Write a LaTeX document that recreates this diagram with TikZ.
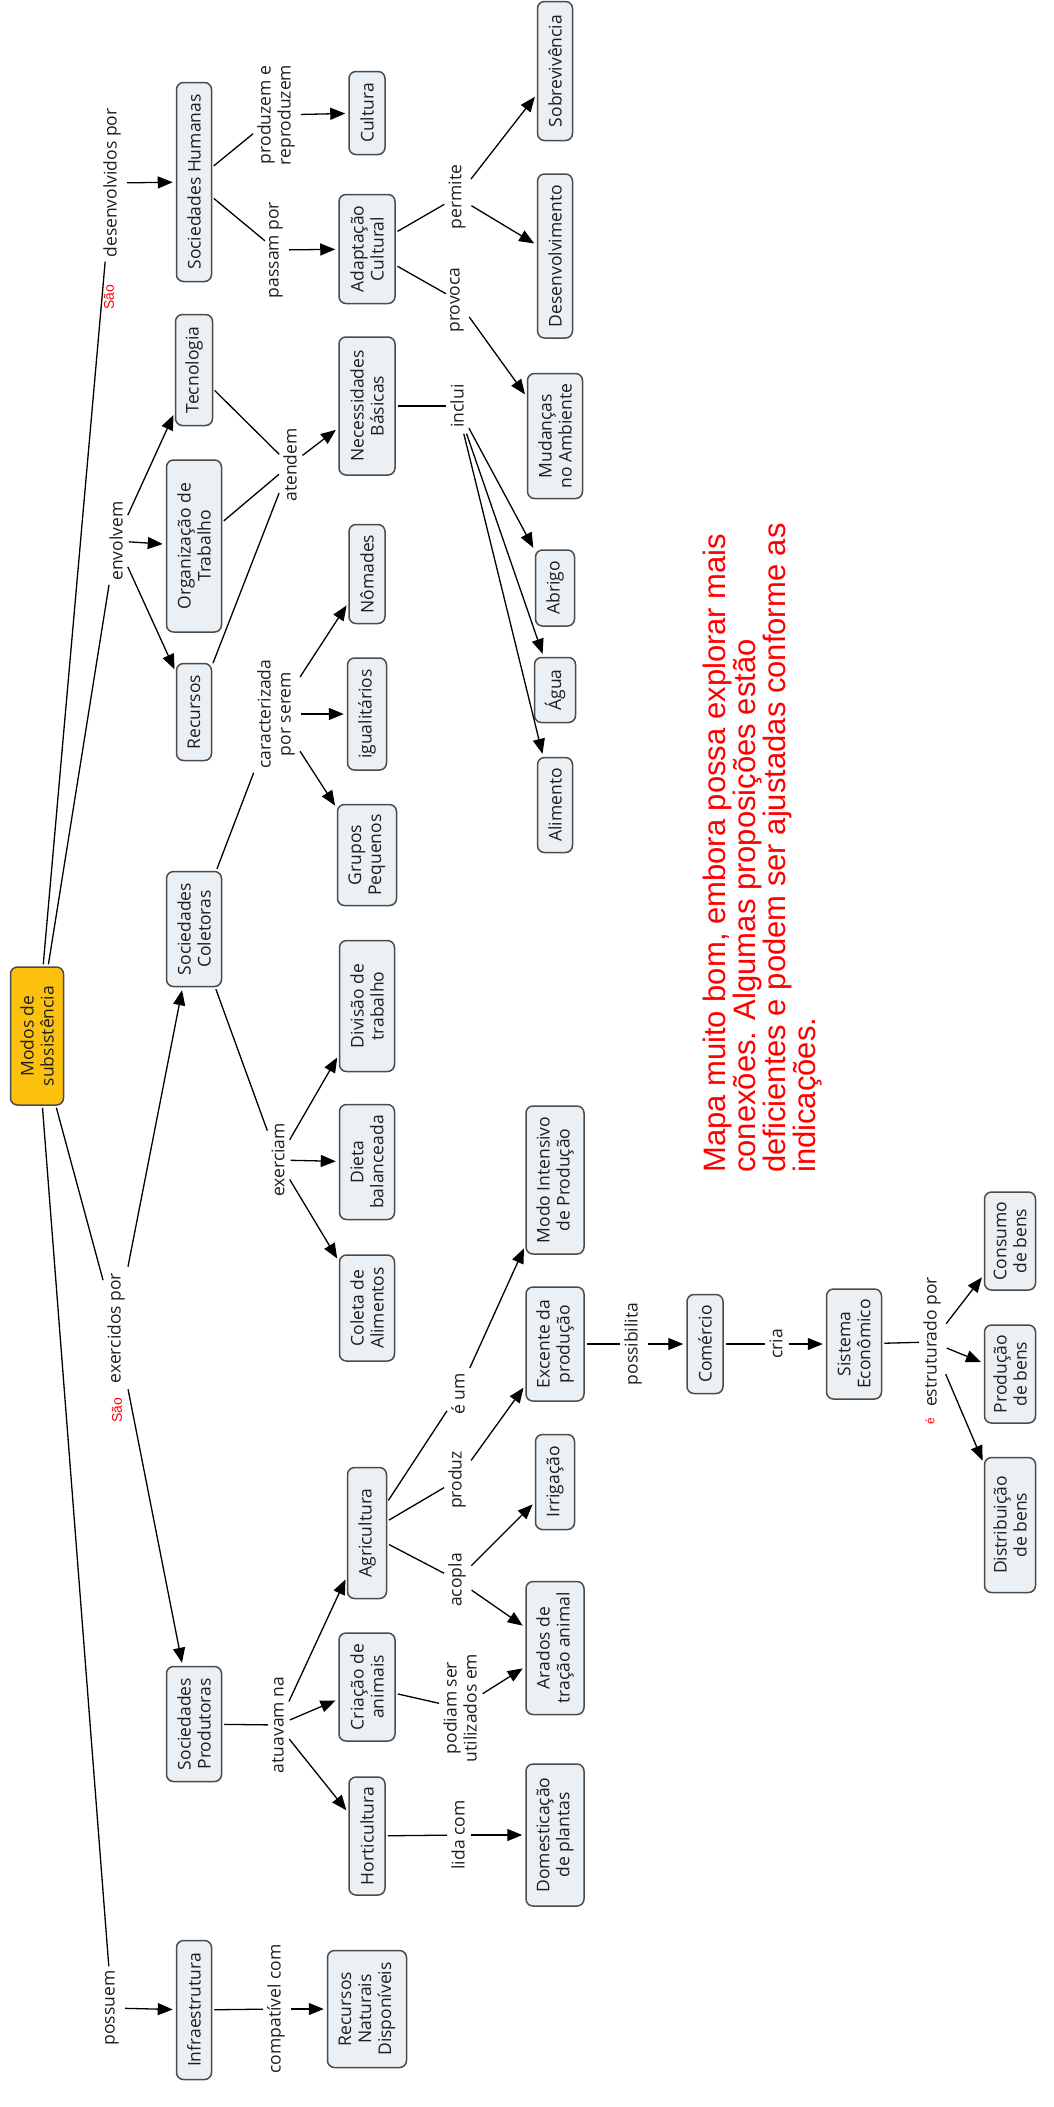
\documentclass[tikz,border=0pt]{standalone}
\usepackage{fontspec}
\usetikzlibrary{arrows.meta}
\newfontfamily\mapfont{Open Sans}
\newfontfamily\redfont{Liberation Sans}
\newcommand\mfont{\mapfont\fontsize{17.5}{20}\selectfont}
\newcommand\rfont{\redfont\fontsize{14}{16}\selectfont}
\newcommand\rsmallfont{\redfont\fontsize{12}{14}\selectfont}
\newcommand\rbigfont{\redfont\fontsize{31}{30}\selectfont}
\definecolor{boxfill}{RGB}{235,240,244}
\definecolor{boxdraw}{RGB}{75,75,75}
\definecolor{rootfill}{RGB}{251,193,14}
\definecolor{txtc}{RGB}{30,30,30}
\definecolor{redtxt}{RGB}{255,0,0}
\begin{document}
\begin{tikzpicture}[x=1pt,y=-1pt,
  cbox/.style={draw=boxdraw, fill=boxfill, line width=1.5pt, rounded corners=7pt,
    rotate=90, align=center, inner sep=2pt, font=\mfont, text=txtc},
  rootbox/.style={fill=rootfill},
  lbl/.style={rotate=90, align=center, inner sep=4pt, font=\mfont, text=txtc},
  redlbl/.style={rotate=90, inner sep=0pt, text=redtxt, font=\rfont},
  con/.style={line width=1.3pt, draw=black, shorten <=2pt},
  arr/.style={con, -{Triangle[length=15pt,width=12pt]}, shorten >=3pt}]
\useasboundingbox (0,0) rectangle (1053,2107);

% concepts
\node[cbox,rootbox,minimum width=138pt,minimum height=53pt] (root) at (37,1036) {Modos de\\subsistência};
\node[cbox,minimum width=199pt,minimum height=35pt] (sochum) at (194,182) {Sociedades Humanas};
\node[cbox,minimum width=83pt,minimum height=36pt] (cultura) at (367,113) {Cultura};
\node[cbox,minimum width=109pt,minimum height=56pt] (adapt) at (367,249) {Adaptação\\Cultural};
\node[cbox,minimum width=111pt,minimum height=37pt] (tecno) at (194,370) {Tecnologia};
\node[cbox,minimum width=138pt,minimum height=56pt] (necess) at (367,406) {Necessidades\\Básicas};
\node[cbox,minimum width=139pt,minimum height=35pt] (sobrev) at (555,71) {Sobrevivência};
\node[cbox,minimum width=164pt,minimum height=35pt] (desenvol) at (555,256) {Desenvolvimento};
\node[cbox,minimum width=125pt,minimum height=55pt] (mudanc) at (555,436) {Mudanças\\no Ambiente};
\node[cbox,minimum width=172pt,minimum height=55pt] (organiz) at (194,546) {Organização de\\Trabalho};
\node[cbox,minimum width=97pt,minimum height=35pt] (recursos) at (194,712) {Recursos};
\node[cbox,minimum width=99pt,minimum height=36pt] (nomades) at (367,574) {Nômades};
\node[cbox,minimum width=112pt,minimum height=39pt] (igualit) at (367,714) {igualitários};
\node[cbox,minimum width=101pt,minimum height=59pt] (grupos) at (367,855) {Grupos\\Pequenos};
\node[cbox,minimum width=115pt,minimum height=55pt] (soccol) at (194,929) {Sociedades\\Coletoras};
\node[cbox,minimum width=131pt,minimum height=55pt] (divisao) at (367,1006) {Divisão de\\trabalho};
\node[cbox,minimum width=115pt,minimum height=55pt] (dieta) at (367,1162) {Dieta\\balanceada};
\node[cbox,minimum width=106pt,minimum height=55pt] (coleta) at (367,1308) {Coleta de\\Alimentos};
\node[cbox,minimum width=76pt,minimum height=39pt] (abrigo) at (555,588) {Abrigo};
\node[cbox,minimum width=65pt,minimum height=41pt] (agua) at (555,690) {Água};
\node[cbox,minimum width=95pt,minimum height=35pt] (alimento) at (555,805) {Alimento};
\node[cbox,minimum width=131pt,minimum height=39pt] (agric) at (367,1533) {Agricultura};
\node[cbox,minimum width=148pt,minimum height=58pt] (modoint) at (555,1180) {Modo Intensivo\\de Produção};
\node[cbox,minimum width=114pt,minimum height=58pt] (excente) at (555,1344) {Excente da\\produção};
\node[cbox,minimum width=95pt,minimum height=39pt] (irrig) at (555,1482) {Irrigação};
\node[cbox,minimum width=99pt,minimum height=36pt] (comercio) at (705,1344) {Comércio};
\node[cbox,minimum width=110pt,minimum height=55pt] (sistema) at (854,1344) {Sistema\\Econômico};
\node[cbox,minimum width=98pt,minimum height=51pt] (consumo) at (1010,1241) {Consumo\\de bens};
\node[cbox,minimum width=98pt,minimum height=51pt] (producao) at (1010,1374) {Produção\\de bens};
\node[cbox,minimum width=135pt,minimum height=51pt] (distrib) at (1010,1525) {Distribuição\\de bens};
\node[cbox,minimum width=115pt,minimum height=55pt] (socprod) at (194,1724) {Sociedades\\Produtoras};
\node[cbox,minimum width=108pt,minimum height=56pt] (criacao) at (367,1687) {Criação de\\animais};
\node[cbox,minimum width=118pt,minimum height=36pt] (hortic) at (367,1836) {Horticultura};
\node[cbox,minimum width=133pt,minimum height=58pt] (arados) at (555,1648) {Arados de\\tração animal};
\node[cbox,minimum width=142pt,minimum height=58pt] (domest) at (555,1835) {Domesticação\\de plantas};
\node[cbox,minimum width=139pt,minimum height=35pt] (infra) at (194,2010) {Infraestrutura};
\node[cbox,minimum width=117pt,minimum height=79pt] (recnat) at (367,2009) {Recursos\\Naturais\\Disponíveis};

% linking phrases
\node[lbl] (ldesenv) at (112,183) {desenvolvidos por};
\node[lbl] (lenvolvem) at (116,541) {envolvem};
\node[lbl] (lexercidos) at (116,1328) {exercidos por};
\node[lbl] (lpossuem) at (112,2008) {possuem};
\node[lbl] (lproduzem) at (276,115) {produzem e\\reproduzem};
\node[lbl] (lpassam) at (276,250) {passam por};
\node[lbl] (latendem) at (290,465) {atendem};
\node[lbl] (lpermite) at (457,197) {permite};
\node[lbl] (lprovoca) at (457,300) {provoca};
\node[lbl] (linclui) at (457,406) {inclui};
\node[lbl] (lcaract) at (276,714) {caracterizada\\por serem};
\node[lbl] (lexerciam) at (278,1160) {exerciam};
\node[lbl] (leum) at (458,1394) {é um};
\node[lbl] (lproduz) at (457,1480) {produz};
\node[lbl] (lacopla) at (457,1580) {acopla};
\node[lbl] (lpossib) at (633,1344) {possibilita};
\node[lbl] (lcria) at (776,1344) {cria};
\node[lbl] (lestrut) at (932,1342) {estruturado por};
\node[lbl] (latuavam) at (278,1725) {atuavam na};
\node[lbl] (lpodiam) at (460,1708) {podiam ser\\utilizados em};
\node[lbl] (llida) at (458,1835) {lida com};
\node[lbl] (lcompat) at (276,2009) {compatível com};

% red corrections
\node[redlbl] (sao1) at (109,297) {São};
\node[redlbl] (sao2) at (117,1410) {São};
\node[redlbl, font=\rsmallfont] (eacc) at (930,1421) {é};
\node[rotate=90, anchor=north west, inner sep=0pt, align=left, text=redtxt,
      font=\rbigfont] (comment) at (703,1173)
  {Mapa muito bom, embora possa explorar mais\\conexões. Algumas proposições estão\\deficientes e podem ser ajustadas conforme as\\indicações.};

% connectors
\draw[con] (root) -- (ldesenv);
\draw[arr] (ldesenv) -- (sochum);
\draw[con] (sochum) -- (lproduzem);
\draw[arr] (lproduzem) -- (cultura);
\draw[con] (sochum) -- (lpassam);
\draw[arr] (lpassam) -- (adapt);
\draw[con] (adapt) -- (lpermite);
\draw[arr] (lpermite) -- (sobrev);
\draw[arr] (lpermite) -- (desenvol);
\draw[con] (adapt) -- (lprovoca);
\draw[arr] (lprovoca) -- (mudanc);
\draw[con] (root) -- (lenvolvem);
\draw[arr] (lenvolvem) -- (tecno);
\draw[arr] (lenvolvem) -- (organiz);
\draw[arr] (lenvolvem) -- (recursos);
\draw[con] (tecno) -- (latendem);
\draw[con] (organiz) -- (latendem);
\draw[con] (recursos) -- (latendem);
\draw[arr] (latendem) -- (necess);
\draw[con] (necess) -- (linclui);
\draw[arr] (linclui) -- (abrigo);
\draw[arr] (linclui) -- (agua);
\draw[arr] (linclui) -- (alimento);
\draw[con] (root) -- (lexercidos);
\draw[arr] (lexercidos) -- (soccol);
\draw[arr] (lexercidos) -- (socprod);
\draw[con] (soccol) -- (lcaract);
\draw[arr] (lcaract) -- (nomades);
\draw[arr] (lcaract) -- (igualit);
\draw[arr] (lcaract) -- (grupos);
\draw[con] (soccol) -- (lexerciam);
\draw[arr] (lexerciam) -- (divisao);
\draw[arr] (lexerciam) -- (dieta);
\draw[arr] (lexerciam) -- (coleta);
\draw[con] (socprod) -- (latuavam);
\draw[arr] (latuavam) -- (agric);
\draw[arr] (latuavam) -- (criacao);
\draw[arr] (latuavam) -- (hortic);
\draw[con] (agric) -- (leum);
\draw[arr] (leum) -- (modoint);
\draw[con] (agric) -- (lproduz);
\draw[arr] (lproduz) -- (excente);
\draw[con] (agric) -- (lacopla);
\draw[arr] (lacopla) -- (irrig);
\draw[arr] (lacopla) -- (arados);
\draw[con] (criacao) -- (lpodiam);
\draw[arr] (lpodiam) -- (arados);
\draw[con] (hortic) -- (llida);
\draw[arr] (llida) -- (domest);
\draw[con] (excente) -- (lpossib);
\draw[arr] (lpossib) -- (comercio);
\draw[con] (comercio) -- (lcria);
\draw[arr] (lcria) -- (sistema);
\draw[con] (sistema) -- (lestrut);
\draw[arr] (lestrut) -- (consumo);
\draw[arr] (lestrut) -- (producao);
\draw[arr] (lestrut) -- (distrib);
\draw[con] (root) -- (lpossuem);
\draw[arr] (lpossuem) -- (infra);
\draw[con] (infra) -- (lcompat);
\draw[arr] (lcompat) -- (recnat);
\end{tikzpicture}
\end{document}
